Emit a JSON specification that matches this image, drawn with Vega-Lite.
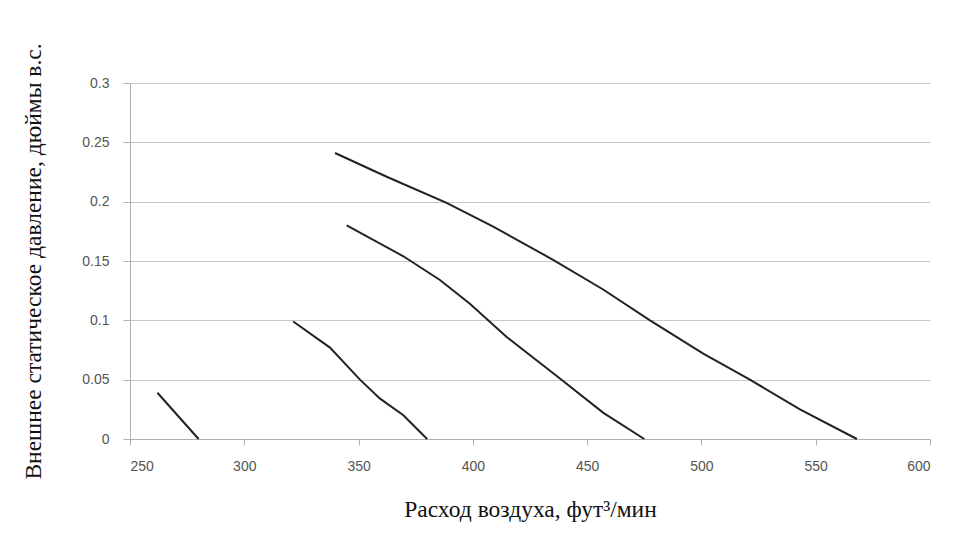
{
  "$schema": "https://vega.github.io/schema/vega-lite/v6.json",
  "autosize": {"type": "none"},
  "width": 800,
  "height": 356,
  "padding": {"left": 130, "top": 83, "right": 27, "bottom": 96},
  "background": "white",
  "config": {
    "view": {"stroke": null},
    "axis": {
      "gridColor": "#c8c8c8",
      "gridWidth": 1.2,
      "domainColor": "#b0b0b0",
      "tickColor": "#b0b0b0",
      "labelColor": "#555555",
      "labelFont": "Liberation Sans",
      "labelFontSize": 14,
      "titleFont": "Liberation Serif",
      "titleFontWeight": "normal",
      "titleFontSize": 23.5,
      "titleColor": "#111111"
    }
  },
  "data": {
    "values": [
      {"s": "1", "x": 262, "y": 0.039},
      {"s": "1", "x": 280, "y": 0},
      {"s": "2", "x": 321.4, "y": 0.099},
      {"s": "2", "x": 337.5, "y": 0.077},
      {"s": "2", "x": 350.6, "y": 0.050},
      {"s": "2", "x": 359.4, "y": 0.034},
      {"s": "2", "x": 369.6, "y": 0.020},
      {"s": "2", "x": 380, "y": 0},
      {"s": "3", "x": 344.8, "y": 0.180},
      {"s": "3", "x": 369.6, "y": 0.154},
      {"s": "3", "x": 385.6, "y": 0.134},
      {"s": "3", "x": 398.7, "y": 0.114},
      {"s": "3", "x": 414.8, "y": 0.086},
      {"s": "3", "x": 438.1, "y": 0.051},
      {"s": "3", "x": 457.1, "y": 0.022},
      {"s": "3", "x": 475, "y": 0},
      {"s": "4", "x": 339.7, "y": 0.241},
      {"s": "4", "x": 362.3, "y": 0.221},
      {"s": "4", "x": 388.5, "y": 0.199},
      {"s": "4", "x": 408.9, "y": 0.179},
      {"s": "4", "x": 435.1, "y": 0.151},
      {"s": "4", "x": 457.0, "y": 0.126},
      {"s": "4", "x": 477.5, "y": 0.100},
      {"s": "4", "x": 500.8, "y": 0.072},
      {"s": "4", "x": 521.2, "y": 0.050},
      {"s": "4", "x": 543.1, "y": 0.025},
      {"s": "4", "x": 568, "y": 0}
    ]
  },
  "mark": {"type": "line", "color": "#222222", "strokeWidth": 2},
  "encoding": {
    "x": {
      "field": "x", "type": "quantitative",
      "scale": {"domain": [250, 600], "nice": false, "zero": false},
      "axis": {
        "values": [250, 300, 350, 400, 450, 500, 550, 600],
        "grid": false,
        "tickSize": 6,
        "labelPadding": 14,
        "title": "Расход воздуха, фут³/мин",
        "titleY": 77,
        "titleBaseline": "alphabetic"
      }
    },
    "y": {
      "field": "y", "type": "quantitative",
      "scale": {"domain": [0, 0.3], "nice": false},
      "axis": {
        "values": [0, 0.05, 0.1, 0.15, 0.2, 0.25, 0.3],
        "format": "~g",
        "tickSize": 7,
        "labelPadding": 14,
        "title": "Внешнее статическое давление, дюймы в.с.",
        "titleX": -90,
        "titleAngle": -90,
        "titleBaseline": "alphabetic"
      }
    },
    "detail": {"field": "s", "type": "nominal"}
  }
}
